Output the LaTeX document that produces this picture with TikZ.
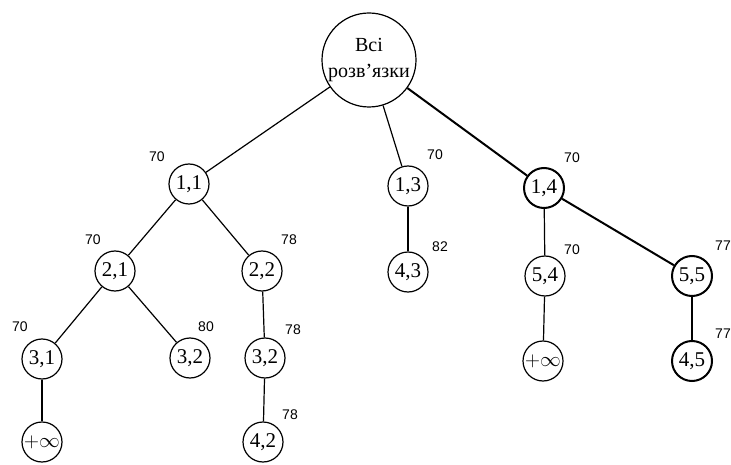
\documentclass[tikz,border=0pt]{standalone}
\usepackage{fontspec}
\setmainfont{Liberation Serif}
\newfontfamily\numfont{Liberation Sans}
\begin{document}
\begin{tikzpicture}[x=1pt,y=-1pt,
  st/.style={circle,draw,line width=1.2pt,minimum size=40pt,inner sep=0pt,font=\fontsize{21}{21}\selectfont},
  stb/.style={st,line width=2pt},
  cost/.style={font=\numfont\fontsize{14}{14}\selectfont,inner sep=0pt},
  edge/.style={line width=1.2pt},
  edgeb/.style={line width=2pt}]
\useasboundingbox (0,0) rectangle (731,465);
\node[circle,draw,line width=1.2pt,minimum size=94pt,inner sep=0pt,align=center,font=\fontsize{20}{26}\selectfont] (root) at (369,60) {Всі\\розв’язки};
\node[st] (n11) at (189,184) {1,1};
\node[st] (n13) at (408,186) {1,3};
\node[stb] (n14) at (544,188) {1,4};
\node[st] (n21) at (115,271) {2,1};
\node[st] (n22) at (262,271) {2,2};
\node[st] (n43) at (408,272) {4,3};
\node[st] (n54) at (545,276) {5,4};
\node[stb] (n55) at (692,276) {5,5};
\node[st] (n31) at (42,359) {3,1};
\node[st] (n32a) at (190,358) {3,2};
\node[st] (n32b) at (265,358) {3,2};
\node[st] (ninf1) at (543,361) {$+\infty$};
\node[stb] (n45) at (692,361) {4,5};
\node[st] (ninf2) at (42,442) {$+\infty$};
\node[st] (n42) at (263,442) {4,2};
\draw[edge] (root) -- (n11);
\draw[edge] (root) -- (n13);
\draw[edgeb] (root) -- (n14);
\draw[edge] (n11) -- (n21);
\draw[edge] (n11) -- (n22);
\draw[edge] (n13) -- (n43);
\draw[edge] (n14) -- (n54);
\draw[edgeb] (n14) -- (n55);
\draw[edge] (n21) -- (n31);
\draw[edge] (n21) -- (n32a);
\draw[edge] (n22) -- (n32b);
\draw[edge] (n54) -- (ninf1);
\draw[edgeb] (n55) -- (n45);
\draw[edge] (n31) -- (ninf2);
\draw[edge] (n32b) -- (n42);
\node[cost] (c11) at (157,157) {70};
\node[cost] (c13) at (435,155) {70};
\node[cost] (c14) at (572,158) {70};
\node[cost] (c21) at (93,240) {70};
\node[cost] (c22) at (289,240) {78};
\node[cost] (c43) at (440,247) {82};
\node[cost] (c54) at (572,250) {70};
\node[cost] (c55) at (723,246) {77};
\node[cost] (c31) at (20,327) {70};
\node[cost] (c32a) at (206,327) {80};
\node[cost] (c32b) at (293,330) {78};
\node[cost] (c45) at (723,334) {77};
\node[cost] (c42) at (290,415) {78};
\end{tikzpicture}
\end{document}
